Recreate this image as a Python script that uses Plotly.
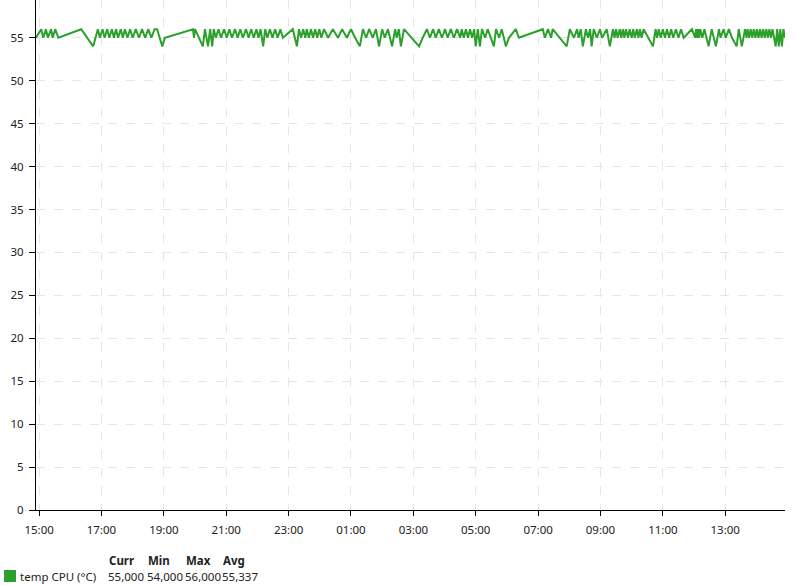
import pandas as pd
import plotly.graph_objects as go

# ---- data (minutes after 15:00 on day 1, CPU temperature in °C) ----
start_time = "2024-05-10 15:00"
minutes = [
    -6, 4, 8, 13, 17, 23, 26, 31, 37, 81, 104,
    113, 117, 122, 126, 131, 135, 140, 144, 148, 152, 157, 161, 165, 170, 175, 180,
    186, 192, 198, 204, 210, 216, 222, 227, 237, 242, 296, 298, 300, 315,
    319, 325, 329, 333, 336, 340, 345, 350, 356, 361, 366, 371, 377, 382, 387, 392,
    398, 403, 408, 413, 418, 422, 426, 431, 435, 439, 444, 449, 454, 459, 464, 469,
    488, 496, 500, 504, 508, 512, 515, 519, 523, 527, 531, 535, 539, 543, 548,
    556, 565, 575, 583, 592, 600, 608, 617, 623, 629, 635, 642, 648, 654, 660, 665,
    671, 679, 685, 688, 692, 696, 702, 731,
    738, 746, 752, 758, 763, 769, 775, 781, 786, 792, 798, 804, 810, 813, 817, 821,
    825, 829, 833, 837, 840, 844, 848, 852, 858, 863, 875, 879, 885, 890, 898, 904,
    917, 923, 969, 973, 979, 985, 988, 1015,
    1021, 1029, 1035, 1038, 1042, 1046, 1052, 1056, 1060, 1063, 1067, 1073, 1079, 1083,
    1092, 1098, 1104, 1107, 1110, 1113, 1117, 1120, 1123, 1126, 1129, 1133, 1136, 1140,
    1143, 1146, 1150, 1153, 1156, 1159, 1163, 1181,
    1186, 1189, 1192, 1196, 1200, 1204, 1208, 1212, 1216, 1220, 1225, 1230, 1235, 1240,
    1256, 1262, 1264, 1266, 1268, 1270, 1272, 1276, 1280, 1288, 1294, 1298, 1302, 1308,
    1311, 1317, 1321, 1327, 1333, 1342, 1346, 1352, 1358, 1361, 1363, 1366, 1369, 1372,
    1375, 1378, 1381, 1384, 1387, 1390, 1393, 1396, 1399, 1402, 1405, 1408, 1411, 1417,
    1420, 1423, 1426, 1429, 1432, 1435,
]
temps = [
    55, 56, 55, 56, 55, 56, 55, 56, 55, 56, 54,
    56, 55, 56, 55, 56, 55, 56, 55, 56, 55, 56, 55, 56, 55, 56, 55,
    56, 55, 56, 55, 56, 55, 56, 56, 54, 55, 56, 55, 56, 54,
    56, 54, 56, 54, 56, 55, 56, 55, 56, 55, 56, 55, 56, 55, 56, 55,
    56, 55, 56, 55, 56, 55, 56, 54, 56, 55, 56, 55, 56, 55, 56, 55,
    56, 54, 56, 55, 56, 55, 56, 55, 56, 55, 56, 55, 56, 55, 56,
    55, 56, 55, 56, 55, 56, 55, 54, 56, 55, 56, 55, 56, 54, 56, 55,
    56, 54, 56, 55, 56, 54, 56, 54,
    55, 56, 55, 56, 55, 56, 55, 56, 55, 56, 55, 56, 55, 56, 55, 56,
    55, 56, 55, 56, 54, 56, 54, 56, 55, 56, 54, 56, 55, 56, 54, 55,
    56, 55, 56, 55, 56, 55, 56, 54,
    56, 55, 56, 55, 56, 54, 56, 55, 56, 54, 56, 55, 56, 55,
    56, 54, 56, 55, 56, 55, 56, 55, 56, 55, 56, 55, 56, 55,
    56, 55, 56, 55, 56, 55, 56, 54,
    56, 55, 56, 55, 56, 55, 56, 55, 56, 55, 56, 55, 56, 55,
    56, 55, 56, 55, 56, 55, 56, 55, 56, 54, 56, 55, 54, 56,
    55, 56, 55, 56, 55, 54, 56, 54, 56, 55, 56, 55, 56, 55,
    56, 55, 56, 55, 56, 55, 56, 55, 56, 55, 56, 55, 56, 54,
    56, 54, 56, 54, 56, 55,
]
series_name = "temp CPU (°C)"
stat_headers = ["Curr", "Min", "Max", "Avg"]
stat_values = ["55,000", "54,000", "56,000", "55,337"]
y_ticks = [0, 5, 10, 15, 20, 25, 30, 35, 40, 45, 50, 55]

times = pd.Timestamp(start_time) + pd.to_timedelta(minutes, unit="min")

W, H = 796, 585
ML, MR, MT, MB = 36, 11, 0, 75
PW, PH = W - ML - MR, H - MT - MB
GREEN = "#2ca02c"
FONT = "Noto Sans"
TXT = "#222222"


def px(x):
    return (x - ML) / PW


def py(y):
    return (H - MB - y) / PH


fig = go.Figure()
fig.add_trace(go.Scatter(
    x=times, y=temps, mode="lines", name=series_name,
    line=dict(color=GREEN, width=2), showlegend=False, hoverinfo="skip",
))

grid = dict(showgrid=True, gridcolor="#e6e6e6", griddash="dash", gridwidth=1)
fig.update_xaxes(
    range=[times[0], times[-1]],
    tickformat="%H:%M", dtick=2 * 3600 * 1000,
    tick0=pd.Timestamp(start_time),
    showline=True, linecolor="black", linewidth=1,
    ticks="outside", ticklen=5, tickcolor="black", ticklabelstandoff=4,
    tickfont=dict(family=FONT, size=11.5, color=TXT),
    zeroline=False, automargin=False, **grid,
)
fig.update_yaxes(
    range=[0, 59.4], tickvals=y_ticks,
    showline=True, linecolor="black", linewidth=1,
    ticks="outside", ticklen=6, tickcolor="black", ticklabelstandoff=3,
    tickfont=dict(family=FONT, size=11.5, color=TXT),
    zeroline=False, automargin=False, **grid,
)

ann = []
header_x = [108, 147, 185, 222]
for hx, h in zip(header_x, stat_headers):
    ann.append(dict(x=px(hx), y=py(560), text=f"<b>{h}</b>", xanchor="left", yanchor="middle"))
for hx, v in zip(header_x, stat_values):
    ann.append(dict(x=px(hx - 1), y=py(576), text=v, xanchor="left", yanchor="middle"))
ann.append(dict(x=px(19), y=py(576), text=series_name, xanchor="left", yanchor="middle"))
for a in ann:
    a.update(xref="paper", yref="paper", showarrow=False, borderpad=0,
             font=dict(family=FONT, size=11.5, color=TXT))

fig.update_layout(
    width=W, height=H,
    margin=dict(l=ML, r=MR, t=MT, b=MB),
    paper_bgcolor="white", plot_bgcolor="white",
    annotations=ann,
    shapes=[dict(type="rect", xref="paper", yref="paper",
                 x0=px(4), x1=px(16), y0=py(582), y1=py(570),
                 fillcolor=GREEN, line=dict(width=0))],
)

fig.write_html("out.html", config={"displayModeBar": False},
               post_script="document.body.style.margin='0';")
